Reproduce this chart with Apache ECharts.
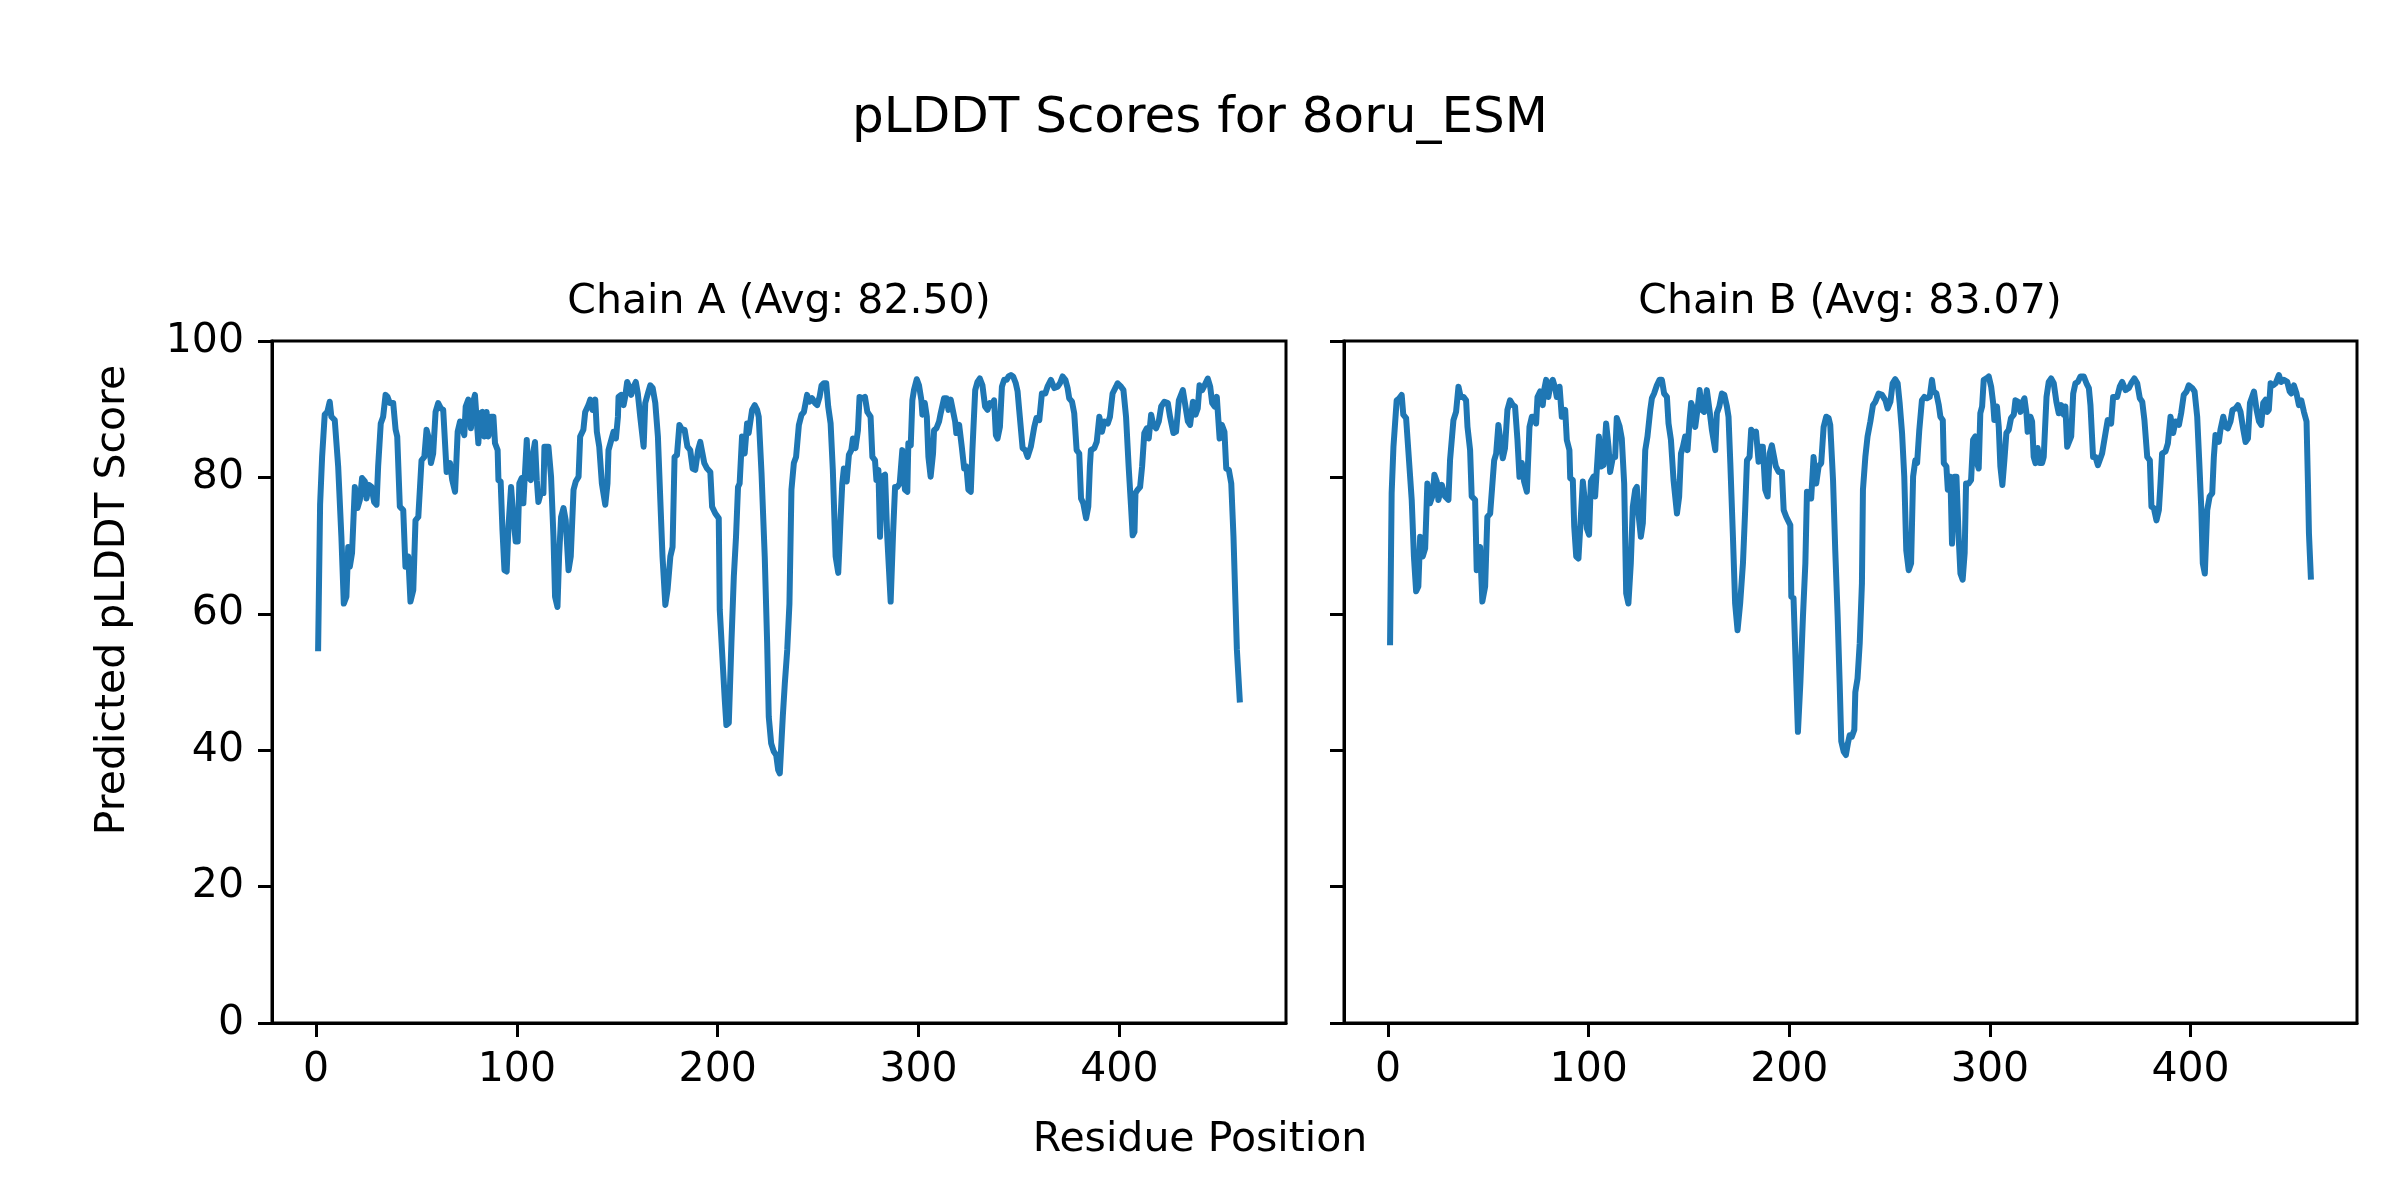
<!DOCTYPE html>
<html><head><meta charset="utf-8">
<script src="https://cdn.jsdelivr.net/npm/echarts@6/dist/echarts.min.js"></script>
<style>html,body{margin:0;padding:0;background:#fff}#c{width:2400px;height:1200px}</style>
</head><body><div id="c"></div>
<script>
const chainA_res = [1,2,3,4.3,5.6,6.8,7.6,9.3,11,12.6,13.8,15.1,16,16.8,17.9,19.3,20.6,21.8,22.9,24.3,25.1,26.3,27.6,28.9,30.1,30.9,32.2,33.4,34.6,35.6,36.7,38.4,39.6,40.4,41.7,43.4,44.5,45.9,47,48.4,49.5,50.9,52.5,53.9,55,55.9,57.2,58.3,59.5,60.8,62.2,63.3,65,66.7,67.8,69.2,70.5,71.7,72.5,73.8,74.5,75.8,77.1,77.8,79.1,80.8,81.6,82.8,83.8,84.9,85.8,87.1,88.3,89.1,90.4,90.8,91.9,92.8,93.8,94.9,95.8,97.1,98.2,99.4,100.4,101.2,102.4,103.2,104.1,104.9,105.7,106.9,107.7,109,109.9,110.7,111.9,113.2,113.7,115.7,
117,118.2,119,120.2,121,122,123.2,124.3,125.7,126.8,128.2,129.3,130.7,131.5,133.1,134,135.6,136.5,137.6,139,139.8,141,142.3,144,145.1,145.6,147,148.1,149.3,150.3,150.6,151.9,153.1,153.9,154.9,155.9,156.9,158.1,159.2,160.2,161.4,163.1,163.9,165.2,166.4,167.6,168.9,170.2,171.4,172.5,173.9,175,176.4,177.5,178.5,179.7,180.9,182.2,183.5,184.9,186.3,187.5,188.8,190.2,191.3,192.2,193.3,194.7,196.3,197.2,198.8,200.5,201,202.1,203.5,204.3,205.5,206.8,208,209.1,210.1,210.9,212.1,213.4,214.6,215.4,217.1,218.4,219.6,220.4,221.8,223.4,224.6,225.4,226.6,227.9,229.1,230.1,230.9,
232.4,233.4,234.6,235.7,236.7,237.9,239,240.4,241.7,242.9,244.5,245.7,247,248.4,249.5,250.7,251.7,252.8,254,255,256.2,257.3,258.7,260,261.2,262,262.8,264.2,265.3,266.5,267.3,268.6,269.8,270.6,272,273.3,274.5,276.1,277,278.3,279,280,280.8,281.9,283.3,284.4,286.1,287.3,288.3,289.4,290.6,291.9,293.2,294.4,294.9,296.1,296.9,297.7,299.1,300.2,301.4,301.9,303.1,304.1,304.9,306,307.2,307.7,308.9,310.2,311,311.9,312.7,313.9,314.9,316,316.9,318.2,318.8,320.2,321.5,322.7,323.8,324.8,326,326.8,328.2,329.3,330.5,331.8,333.1,334.3,335.5,336.5,337.6,338.5,339.3,340.5,341.5,342.6,343.8,344.8,346,347.1,348.4,349.3,350.1,
351.8,353.1,354.3,355.9,357.6,358.7,360.1,361.4,363.1,364.2,365.9,367.6,369.2,370.4,371.7,373.1,374.2,375,376.4,377.5,378.7,380,380.9,382,383.4,384.5,385.3,385.8,387.5,388.7,390,391.3,392.5,394.2,395.3,396.6,398.3,399.1,400.8,402,403.3,404.6,405.8,406.6,407.5,408,409.1,410.3,411.3,412.4,413.6,414.6,415.8,416.9,418.3,419.6,420.8,422.4,424.1,425.2,426.9,428.2,429.6,431.6,432.9,434.1,435.2,436.6,437.9,439,439.9,441.2,442.4,444,445.2,446.2,447.4,448.5,449.9,451,452.3,453.2,454.5,455.7,456.8,457.8,458.5,460];
const chainA_score = [54.5,76,83.0,89.2,89.6,91.1,88.9,88.4,81.6,71.3,61.5,62.5,69.8,66.9,68.9,78.6,75.5,76.7,79.9,79.4,76.9,78.9,78.6,76.4,76.0,81.6,87.9,88.9,92.1,91.8,90.9,90.9,87.0,86.0,75.7,75.2,66.9,68.4,61.8,63.5,73.7,74.2,82.5,83.0,87.0,86.0,82.1,83.5,89.6,90.9,90.1,89.9,80.8,82.1,79.6,77.9,86.7,88.2,88.2,86.2,90.4,91.4,87.2,90.6,92.1,85.0,89.4,89.6,86.0,89.6,86.0,88.9,88.9,85.0,84.0,79.6,79.4,72.3,66.4,66.2,72.8,78.6,74.2,70.6,70.6,79.1,79.9,76.2,76.2,85.5,80.1,79.6,83.0,85.2,79.6,76.4,77.7,77.7,84.5,84.5,
80.1,71.3,62.5,61.0,68.4,74.2,75.5,73.7,66.4,68.4,78.2,79.4,80.1,86.0,87.0,89.6,90.6,91.4,89.9,91.4,86.7,84.5,79.1,76.0,79.1,84.0,85.5,86.7,85.7,88.9,91.8,92.1,90.6,91.8,94.0,93.3,92.1,93.3,94.0,92.3,88.9,84.5,90.9,92.3,93.5,93.1,90.9,86.0,76.7,68.4,61.3,63.5,68.4,69.8,83.0,83.3,87.7,87.0,87.0,84.5,84.0,81.3,81.1,84.0,85.2,85.0,82.1,81.3,80.8,75.7,74.7,74.0,60.6,54.7,47.4,43.7,44.0,55.7,65.4,71.3,78.6,79.1,86.0,83.5,87.9,86.5,89.9,90.6,89.9,88.9,80.6,68.4,55.7,44.9,41.0,39.8,39.3,37.1,36.6,
45.0,49.8,54.7,61.5,78.2,82.1,83.0,87.7,89.2,89.6,92.1,91.1,91.6,90.9,90.6,91.8,93.5,93.8,93.8,90.4,87.9,81.1,68.4,66.0,74.2,79.1,81.3,79.4,83.3,84.0,85.7,84.3,86.9,91.8,91.6,91.8,89.6,88.9,83.0,82.5,79.6,81.1,71.3,80.1,80.4,71.3,61.8,71.8,78.6,78.6,79.1,84.0,78.2,77.9,85.0,84.7,91.3,92.8,94.4,93.5,91.3,89.2,90.9,88.9,83.0,80.1,83.5,86.9,87.2,88.2,89.4,89.6,91.6,91.6,89.9,91.4,91.4,88.2,86.5,87.7,84.5,81.3,81.6,78.2,77.9,84.0,92.8,94.0,94.5,93.5,90.4,89.9,90.9,90.6,91.3,86.2,85.7,87.4,93.3,94.3,94.3,94.8,95.0,94.8,93.8,92.6,89.9,
84.3,84.0,83.0,84.5,87.4,88.7,88.4,92.3,92.3,93.3,94.3,93.1,93.3,93.8,94.8,94.3,93.1,91.6,91.1,89.4,84.0,83.5,76.9,76.2,74.0,75.7,81.6,84.0,84.3,85.2,88.9,86.7,88.2,87.9,88.9,92.3,93.3,93.8,93.3,92.8,88.9,81.6,75.7,71.5,72.0,77.7,78.2,78.6,81.6,86.5,87.2,85.7,89.2,87.7,87.2,88.2,90.4,91.1,90.9,88.9,86.5,86.7,91.3,92.8,90.4,88.2,87.7,91.1,89.2,90.1,93.5,92.8,93.5,94.5,93.3,90.9,90.4,91.8,85.7,87.7,86.7,81.3,81.1,79.1,71.3,61.5,54.7,47.0];

const chainB_res = [1,1.8,2.7,4.3,5.6,6.8,7.6,9,10.1,11.8,12.9,14,15.1,16,17.3,18.5,19.6,20.9,22.3,23.1,24.3,25.1,26.8,28.4,30.1,30.9,32.6,33.9,35.1,36.2,37.6,38.9,39.6,40.9,41.7,43.4,44.2,45.9,47,48.4,49.5,50.9,52.9,53.9,55,56.2,57.2,58.3,59.5,60.8,62.2,63.3,64.5,65.5,66.7,67.8,69.2,70.5,71.7,72.8,73.8,74.5,75.8,77.1,77.8,78.8,79.9,81.1,82.1,83.3,84.1,85.5,86.6,88.3,89.1,90.4,90.8,92.1,92.8,93.8,94.9,96.1,97.1,98.2,99.1,100.2,101.1,102.4,103.2,104.1,105.1,106.1,107.4,108.7,109.9,110.7,112.1,113.2,114,115.4,
116.5,117.7,118.7,119.8,121,122,123.2,124,124.8,126,127,128.2,129.3,130.7,131.5,132.6,134,135.3,136.5,137.6,139,139.8,141,142.3,144,145.1,146,147,148.1,149.3,150.3,151.1,152.3,153.1,154.3,155.3,156.4,157.6,158.9,160.2,161.4,163.1,163.9,165.1,166.4,167.6,168.9,169.7,170.6,171.9,173,174.2,175.5,176.9,178,178.9,180.2,181,182.2,183.4,184.7,185.5,186.8,188,189.2,190.2,191.3,192.2,193.3,194.7,196.3,197.2,198.5,200.5,201,202.1,203.5,204.3,205.5,206.8,208,208.8,210.1,210.9,212.1,213.4,214.6,215.9,217.1,218.4,219.6,220.4,221.8,222.9,224.1,225.1,225.9,227.1,228.2,229.2,230.1,231.2,232.4,232.9,234,
235.1,236.2,236.7,237.9,239,240.4,241.7,242.9,244.5,246.2,247.9,249,250.4,251.5,252.8,254,255,256.2,257.3,258.3,259.5,260.7,261.7,262.8,263.7,264.8,266.1,267.3,268.6,270,271.1,271.9,273.3,274.5,275.3,276.5,277,278.3,279,280.3,281.1,282.3,283.3,284.4,285.3,286.4,287.4,288.1,289.4,290.6,291.6,292.7,293.6,294.4,295.2,296.1,296.9,298.2,299.4,300.6,301.6,302.2,303.5,304.4,305.2,306.2,307.2,308.2,309.4,310.5,311.9,312.7,313.9,315.2,316,317.2,318.2,318.8,320.2,321,321.8,322.7,323.8,324.8,326,326.8,328.2,329.3,330.5,331.8,333.1,334.3,335.5,336.8,337.6,338.5,339.3,340.5,341.5,342.6,343.8,345.1,346.8,348.1,349.3,350.1,
351.4,352.6,353.8,355.9,357.6,358.7,360.4,361.4,363.4,364.7,365.9,367.6,369.2,370.4,372,373.4,374.7,375.9,377,378.4,379.7,380.5,381.7,383,384.2,385,385.8,387.5,388.7,390,391.3,392.5,394.2,395.3,396.6,398,399.1,400.8,402,403.3,404.3,405.3,406.1,407.1,408.3,409.5,410.8,411.6,412.4,414.1,414.9,416.3,417.4,418.6,419.9,420.9,422.4,423.6,424.9,426.3,427.4,428.6,429.6,431.6,432.9,434.1,435.2,436.2,437.4,438.2,439,439.9,441.2,442.4,444,445.2,446.5,448.2,449.4,450.2,451.5,452.8,454,455.2,456.5,457.8,458.5,459,460];
const chainB_score = [55.4,77.7,84.5,91.3,91.6,92.1,89.2,88.7,84.0,76.7,68.4,63.3,64.0,71.3,68.4,69.6,79.1,76.2,77.4,80.4,79.4,76.7,78.9,77.2,76.7,82.5,88.4,89.6,93.3,91.8,91.8,91.3,87.4,84.0,77.2,76.7,66.4,69.8,61.8,64.0,74.2,74.7,82.5,83.5,87.7,85.0,82.8,84.3,89.9,91.3,90.6,90.4,85.5,80.1,82.1,79.4,77.9,87.4,88.9,88.9,87.9,91.8,92.6,90.6,92.8,94.3,91.8,93.8,94.3,93.1,91.8,93.3,88.9,89.9,85.5,84.0,79.9,79.6,72.8,68.4,68.1,74.2,79.4,76.2,72.5,71.6,79.4,80.1,77.2,77.2,86.0,81.6,81.8,87.9,84.5,80.8,83.0,83.0,88.7,87.5,
85.7,79.1,63.0,61.5,67.4,75.7,78.2,78.6,74.7,71.3,73.3,84.0,86.0,89.9,91.6,92.3,93.5,94.3,94.3,92.3,91.8,87.9,85.5,79.6,74.7,77.2,83.5,84.5,86.0,84.0,88.4,90.9,89.9,87.4,90.1,92.8,89.9,89.6,92.8,89.9,87.0,84.0,89.4,90.4,92.3,92.1,90.4,88.9,82.1,71.3,61.5,57.6,61.5,67.4,75.2,82.5,83.0,87.0,86.5,86.7,82.3,84.5,84.5,78.2,77.2,83.5,84.7,84.7,81.6,80.8,80.8,75.2,74.2,73.0,62.5,62.3,49.8,42.7,49.8,59.6,67.4,77.9,77.7,76.9,83.0,79.1,81.6,82.1,87.4,88.9,88.7,87.7,79.6,69.3,59.6,49.8,41.3,39.8,39.3,41.0,42.2,42.0,43.0,48.5,50.5,
55.7,64.5,78.2,83.0,86.0,88.2,90.6,91.1,92.3,92.1,91.3,90.1,91.1,93.8,94.4,93.8,90.9,86.5,80.1,69.3,66.4,67.4,80.1,82.5,82.1,87.0,91.3,91.8,91.6,91.8,94.3,92.6,92.3,90.6,88.9,88.4,82.1,81.6,78.2,80.1,70.3,80.1,80.1,71.3,65.9,65.0,68.9,79.1,79.1,79.6,85.5,86.0,82.1,81.3,89.4,90.4,94.3,94.5,94.8,93.3,90.9,88.4,90.4,87.4,81.6,78.9,82.5,86.5,87.0,88.7,89.2,91.3,91.1,89.6,90.9,91.6,89.4,86.7,88.9,88.2,83.0,82.1,84.3,82.1,82.1,83.0,91.8,94.0,94.5,93.8,91.1,89.4,90.6,89.2,90.4,84.5,84.3,86.0,92.3,93.8,94.0,94.8,94.8,93.8,93.1,90.6,
83.0,83.0,81.8,83.5,86.5,88.4,87.9,91.8,91.8,93.3,94.0,92.8,93.1,93.8,94.5,93.8,91.6,91.1,88.4,83.0,82.5,75.7,75.5,73.7,75.2,79.1,83.5,83.8,85.0,88.9,86.5,88.2,87.7,89.4,92.1,92.6,93.5,93.1,92.6,88.9,82.5,75.7,67.4,65.9,75.2,77.2,77.7,83.0,86.2,85.2,87.0,88.9,87.4,87.2,88.2,89.9,90.1,90.6,89.6,87.0,85.2,85.7,90.9,92.6,89.9,88.2,87.7,90.9,91.4,89.6,89.9,93.8,93.5,93.8,95.0,94.0,94.3,94.0,92.6,92.3,93.5,92.3,90.6,91.3,89.6,88.2,79.1,71.8,65.0];

const xTicks = [0, 100, 200, 300, 400];
const yTicks = [0, 20, 40, 60, 80, 100];
const panelTitles = ['Chain A (Avg: 82.50)', 'Chain B (Avg: 83.07)'];
const figTitle = 'pLDDT Scores for 8oru_ESM';
const xName = 'Residue Position';
const yName = 'Predicted pLDDT Score';

const FONT = 'DejaVu Sans';
const pairs = (xs, ys) => xs.map((x, i) => [x, ys[i]]);

const chart = echarts.init(document.getElementById('c'), null, {renderer: 'canvas'});
const gridBase = {top: 341, height: 682, show: true, borderColor: '#000', borderWidth: 3, backgroundColor: 'transparent'};
function xAx(i) {
  return {type: 'value', gridIndex: i, min: -21.95, max: 482.95, position: 'bottom',
    splitLine: {show: false},
    axisLine: {show: true, onZero: false, lineStyle: {color: '#000', width: 3}},
    axisTick: {show: true, inside: false, customValues: xTicks, length: 14, lineStyle: {color: '#000', width: 3}},
    axisLabel: {customValues: xTicks, fontSize: 41, fontFamily: FONT, color: '#000', margin: 27}};
}
function yAx(i, showLabels) {
  return {type: 'value', gridIndex: i, min: 0, max: 100, interval: 20, position: 'left',
    splitLine: {show: false},
    axisLine: {show: true, onZero: false, lineStyle: {color: '#000', width: 3}},
    axisTick: {show: true, inside: false, length: 14, lineStyle: {color: '#000', width: 3}},
    axisLabel: {show: showLabels, fontSize: 41, fontFamily: FONT, color: '#000', margin: 28}};
}
function txt(text, x, y, size, rot) {
  return {type: 'text', x: x, y: y, rotation: rot || 0, silent: true,
    style: {text: text, fontSize: size, fontFamily: FONT, fill: '#000',
      align: 'center', verticalAlign: 'middle', textAlign: 'center', textVerticalAlign: 'middle'}};
}
chart.setOption({
  animation: false,
  backgroundColor: '#fff',
  grid: [Object.assign({left: 272, width: 1014}, gridBase), Object.assign({left: 1344, width: 1013}, gridBase)],
  xAxis: [xAx(0), xAx(1)],
  yAxis: [yAx(0, true), yAx(1, false)],
  series: [
    {type: 'line', xAxisIndex: 0, yAxisIndex: 0, data: pairs(chainA_res, chainA_score), showSymbol: false,
      lineStyle: {color: '#1f77b4', width: 6, join: 'round'}},
    {type: 'line', xAxisIndex: 1, yAxisIndex: 1, data: pairs(chainB_res, chainB_score), showSymbol: false,
      lineStyle: {color: '#1f77b4', width: 6, join: 'round'}}
  ],
  graphic: [
    txt(figTitle, 1200, 119, 50),
    txt(panelTitles[0], 779, 302, 41),
    txt(panelTitles[1], 1850, 302, 41),
    txt(xName, 1200, 1140, 41),
    txt(yName, 113, 600, 41, Math.PI / 2)
  ]
});
</script>
</body></html>
